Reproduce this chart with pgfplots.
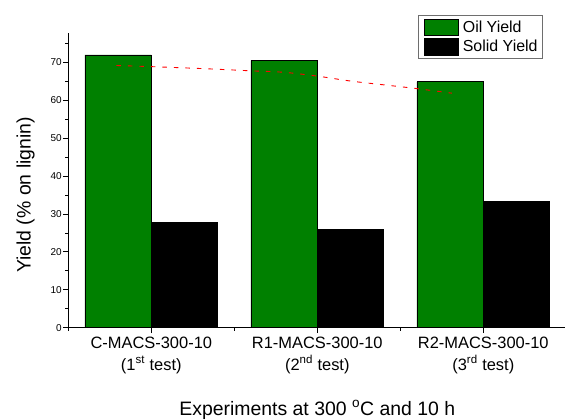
\documentclass[border=0pt]{standalone}
\usepackage{fontspec}
\setmainfont{Liberation Sans}
\usepackage{pgfplots}
\pgfplotsset{compat=1.18}
\definecolor{oilgreen}{RGB}{0,128,0}
\definecolor{legframe}{RGB}{110,110,110}
\pgfplotsset{boxlegend/.style={legend image code/.code={\draw[##1, line width=0.7bp] (0bp,-8.35bp) rectangle (34bp,8.35bp);}}}
\begin{document}
\begin{tikzpicture}
\useasboundingbox (-68.3bp,-92.3bp) rectangle (496.7bp,327.7bp);
\clip (-68.3bp,-92.3bp) rectangle (496.7bp,327.7bp);
\begin{axis}[
  at={(0,0)}, anchor=south west,
  scale only axis, width=498bp, height=294.4bp,
  xmin=0.5, xmax=3.5, ymin=0, ymax=77.7,
  axis lines*=left,
  axis line style={line width=0.9bp, -},
  xtick={1,2,3}, minor xtick={0.5,1.5,2.5,3.5},
  ytick={0,10,...,70}, minor ytick={5,15,...,75},
  xtick pos=bottom, ytick pos=left,
  tick align=outside, major tick length=5.5bp, minor tick length=3bp,
  every tick/.style={black, line width=0.9bp},
  /pgf/number format/assume math mode=true,
  xticklabels={{C-MACS-300-10\\(1\textsuperscript{st} test)},
               {R1-MACS-300-10\\(2\textsuperscript{nd} test)},
               {R2-MACS-300-10\\(3\textsuperscript{rd} test)}},
  xticklabel style={align=center, font=\fontsize{16.5}{21.3}\selectfont, inner sep=0pt, anchor=north, yshift=-4bp},
  yticklabel style={font=\fontsize{10}{12}\selectfont, inner sep=0pt, anchor=east, xshift=-1bp},
  xlabel={Experiments at 300 \textsuperscript{o}C and 10 h},
  xlabel style={at={(axis description cs:0.5,-0.2975)}, anchor=base, font=\fontsize{19.5}{20}\selectfont, inner sep=0pt},
  ylabel={Yield (\% on lignin)},
  ylabel style={at={(axis description cs:-0.0759,0.4507)}, anchor=base, font=\fontsize{19.5}{20}\selectfont, inner sep=0pt},
  legend style={at={(axis description cs:0.7028,1.0622)}, anchor=north west,
    draw=legframe, line width=0.9bp, inner xsep=5bp, inner ysep=3.3bp,
    row sep=1.7bp, column sep=4.4bp, font=\fontsize{16}{16}\selectfont,
    cells={anchor=west}, nodes={inner sep=0pt}},
]
\addplot[ybar, bar width=0.4, bar shift=-0.2, fill=oilgreen, draw=black, line width=0.7bp, boxlegend]
  coordinates {(1,72.0) (2,70.55) (3,64.9)};
\addlegendentry{Oil Yield}
\addplot[ybar, bar width=0.4, bar shift=0.2, fill=black, draw=black, line width=0.7bp, boxlegend]
  coordinates {(1,27.7) (2,25.9) (3,33.4)};
\addlegendentry{Solid Yield}
\addplot[red, line width=0.9bp, dash pattern=on 4.5bp off 7bp, smooth, forget plot]
  coordinates {(0.79,69.2) (1.0,68.9) (1.3,68.4) (1.6,67.8) (1.8,67.4) (2.0,66.4) (2.2,65.1) (2.4,64.1) (2.6,63.1) (2.81,61.9)};
\end{axis}
\end{tikzpicture}
\end{document}
